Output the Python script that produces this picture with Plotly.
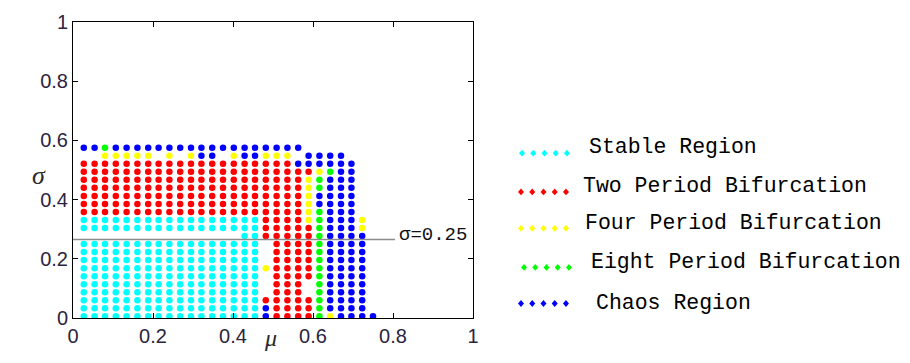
import plotly.graph_objects as go

# ---- data -------------------------------------------------------------
mu_levels = [0.027, 0.054, 0.080, 0.107, 0.134, 0.161, 0.188, 0.214, 0.241, 0.268,
             0.295, 0.321, 0.348, 0.375, 0.402, 0.429, 0.455, 0.482, 0.509, 0.536,
             0.563, 0.589, 0.616, 0.643, 0.670, 0.696, 0.723, 0.750]
sigma_levels = [0.006, 0.033, 0.060, 0.087, 0.114, 0.141, 0.168, 0.196, 0.223, 0.250,
                0.277, 0.304, 0.331, 0.358, 0.385, 0.412, 0.440, 0.467, 0.494, 0.521,
                0.548, 0.575]
# region code per grid cell, rows from top (largest sigma) to bottom
# C stable, R two-period, Y four-period, G eight-period, B chaos, . none
region_rows = [
    "BBGBBBBBBBBBBBBBBBBBB.......",
    "..YYYYY.Y.YBB.YBBYYY.BBBB...",
    "RRRRRRRRRRRRRRRRRRRRBBBBBB..",
    "RRRRRRRRRRRRRRRRRRRRRRYGBB..",
    "RRRRRRRRRRRRRRRRRRRRRYGBBB..",
    "RRRRRRRRRRRRRRRRRRRRRYGBBB..",
    "RRRRRRRRRRRRRRRRRRRRRYBBBB..",
    "RRRRRRRRRRRRRRRRRRRRRYBBBB..",
    "RRRRRRRRRRRRRRRRRRRRRYGBBB..",
    "CCCCCCCCCCCCCCCCCRRRRYGBBBY.",
    "CCCCCCCCCCCCCCCCCRRRRRGBBBY.",
    "...............CCRRRRRGBBBB.",
    "CCCCCCCCCCCCCCCCC.RRRRGBBBB.",
    "CCCCCCCCCCCCCCCCC.RRRRGBBBB.",
    "CCCCCCCCCCCCCCCCC.RRRRGBBBB.",
    "CCCCCCCCCCCCCCCCCYRRRRGBBBB.",
    "CCCCCCCCCCCCCCCCC.RRRRGBBBB.",
    "CCCCCCCCCCCCCCCCC.RRR.GBBBB.",
    "CCCCCCCCCCCCCCCCC.RRR.GBBBB.",
    "CCCCCCCCCCCCCCCCCRRRRRGBBBB.",
    "CCCCCCCCCCCCCCCCCBRRRRGBBBB.",
    "CCCCCCCCCCCCCCCCCBRRRRGYBBBB",
]
region_codes = ["C", "R", "Y", "G", "B"]
region_names = ["Stable Region", "Two Period Bifurcation", "Four Period Bifurcation",
                "Eight Period Bifurcation", "Chaos Region"]
region_colors = ["#00FFFF", "#FF0000", "#FFFF00", "#00FF00", "#0000FF"]
x_ticks = [0, 0.2, 0.4, 0.6, 0.8, 1]
y_ticks = [0, 0.2, 0.4, 0.6, 0.8, 1]
ref_sigma = 0.265
ref_label = "σ=0.25"

# ---- figure -----------------------------------------------------------
fig = go.Figure()
n_rows = len(sigma_levels)
for code, name, color in zip(region_codes, region_names, region_colors):
    xs, ys = [], []
    for r, row in enumerate(region_rows):
        s = sigma_levels[n_rows - 1 - r]
        for c, ch in enumerate(row):
            if ch == code:
                xs.append(mu_levels[c])
                ys.append(s)
    fig.add_trace(go.Scatter(x=xs, y=ys, mode="markers", name=name,
                             marker=dict(symbol="circle", size=6.5, color=color,
                                         line=dict(width=0)),
                             showlegend=False))

# reference line sigma = 0.25
fig.add_shape(type="line", xref="x", yref="y", x0=0, x1=0.805, y0=ref_sigma, y1=ref_sigma,
              line=dict(color="#8c8c8c", width=1.5))
fig.add_annotation(x=0.81, y=ref_sigma, xref="x", yref="y", text=ref_label,
                   showarrow=False, xanchor="left", yanchor="middle", yshift=5,
                   font=dict(family="Liberation Mono", size=19, color="#111"))

# manual legend (5 small markers + label per entry), paper coords of plot area
leg_y = [0.557, 0.426, 0.303, 0.171, 0.049]
txt_y = [0.579, 0.446, 0.320, 0.190, 0.052]
txt_x = [1.284, 1.269, 1.274, 1.291, 1.3025]
ico_x0 = [1.1225, 1.120, 1.120, 1.1275, 1.120]
for i, (name, color) in enumerate(zip(region_names, region_colors)):
    for k in range(5):
        cx = ico_x0[i] + k * 0.0281
        cy = leg_y[i]
        fig.add_shape(type="path", xref="paper", yref="paper",
                      path=f"M {cx-0.0075},{cy} L {cx},{cy+0.0115} "
                           f"L {cx+0.0075},{cy} L {cx},{cy-0.0115} Z",
                      fillcolor=color, line=dict(width=0))
    fig.add_annotation(x=txt_x[i], y=txt_y[i], xref="paper", yref="paper", text=name,
                       showarrow=False, xanchor="left", yanchor="middle",
                       font=dict(family="Liberation Mono", size=21.5, color="#000"))

# axis titles
fig.add_annotation(x=0.4925, y=-0.118, xref="paper", yref="paper", text="<i>μ</i>",
                   showarrow=False, font=dict(family="Liberation Serif", size=24, color="#2a2a2a"))
fig.add_annotation(x=-0.1075, y=0.483, xref="paper", yref="paper", text="<i>σ</i>",
                   showarrow=False, font=dict(family="Liberation Serif", size=26, color="#2a2a2a"))

axis_common = dict(range=[0, 1], showgrid=False, zeroline=False, showline=True,
                   linecolor="#000", linewidth=1, mirror="ticks", ticks="inside",
                   ticklen=5, tickcolor="#000",
                   tickfont=dict(family="Liberation Sans", size=20, color="#2b2440"))
fig.update_xaxes(**axis_common, tickvals=x_ticks, ticktext=[f"{v:g}" for v in x_ticks])
fig.update_yaxes(**axis_common, tickvals=y_ticks, ticktext=[f"{v:g}" for v in y_ticks])

fig.update_layout(width=910, height=363, margin=dict(l=73, r=437, t=22, b=45),
                  plot_bgcolor="#fff", paper_bgcolor="#fff", showlegend=False)

fig.write_html("out.html")
